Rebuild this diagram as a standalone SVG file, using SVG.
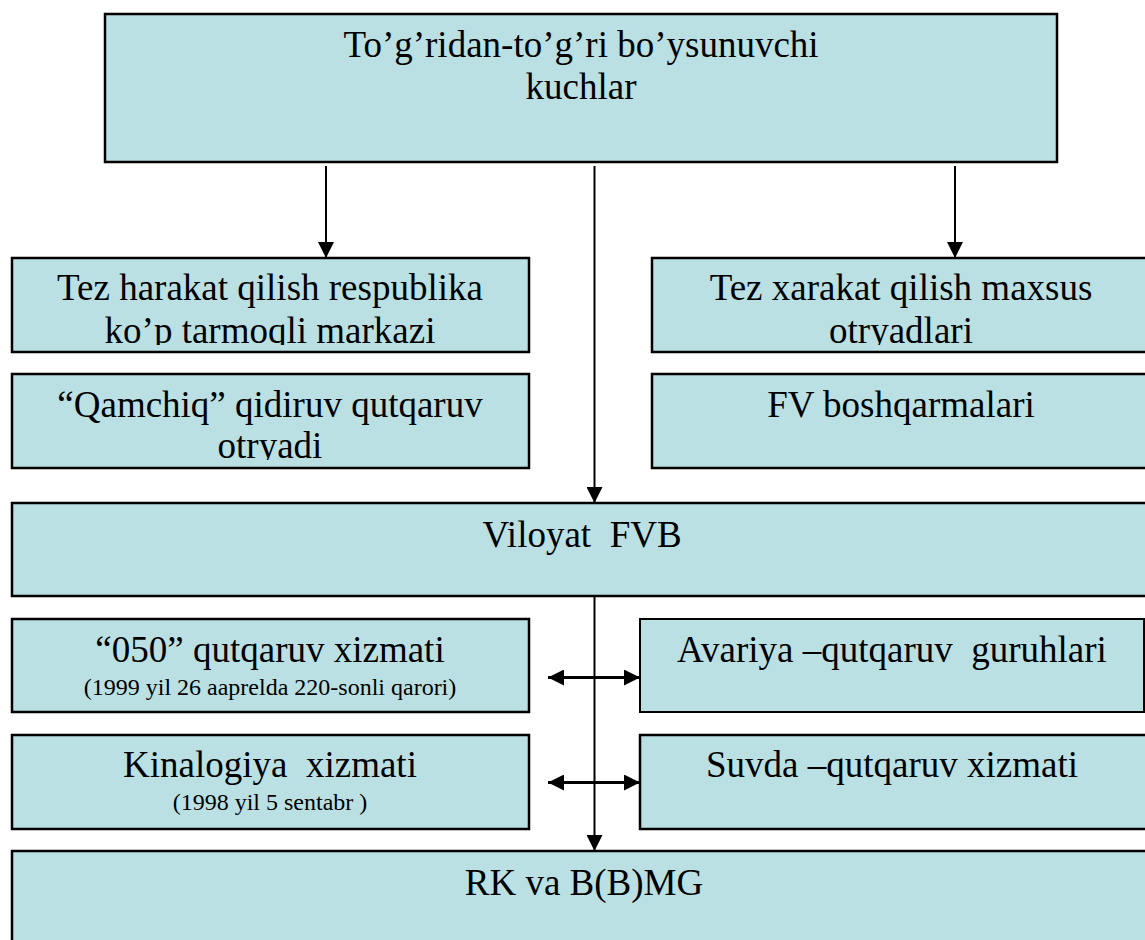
<svg xmlns="http://www.w3.org/2000/svg" width="1145" height="940" viewBox="0 0 1145 940">
<style>
.box{fill:#BBE0E3;stroke:#000;stroke-width:2.5}
.t{font-family:"Liberation Serif","Times New Roman",serif;font-size:37px;fill:#000;text-anchor:middle}
.s{font-family:"Liberation Serif","Times New Roman",serif;font-size:24px;fill:#000;text-anchor:middle}
.ln{stroke:#000;stroke-width:2;fill:none}
.dl{stroke:#000;stroke-width:3;fill:none}
</style>
<defs>
<marker id="ah" markerUnits="userSpaceOnUse" markerWidth="16" markerHeight="16" viewBox="0 0 16 16" refX="16" refY="8" orient="auto">
<path d="M0,0 L16,8 L0,16 Z" fill="#000"/>
</marker>
<marker id="dh" markerUnits="userSpaceOnUse" markerWidth="16" markerHeight="16" viewBox="0 0 16 16" refX="16" refY="8" orient="auto-start-reverse">
<path d="M0,0 L16,8 L0,16 Z" fill="#000"/>
</marker>
<clipPath id="c1"><rect x="12" y="258" width="518" height="87"/></clipPath>
<clipPath id="c2"><rect x="652" y="258" width="500" height="87"/></clipPath>
<clipPath id="c3"><rect x="12" y="374" width="518" height="86"/></clipPath>
</defs>
<g id="n-top">
<rect class="box" x="105" y="14" width="952" height="148"/>
<text class="t" x="581" y="57">To’g’ridan-to’g’ri bo’ysunuvchi</text>
<text class="t" x="581" y="99">kuchlar</text>
</g>
<g id="n-tez1">
<rect class="box" x="12" y="258" width="517" height="94"/>
<g clip-path="url(#c1)">
<text class="t" x="270" y="300">Tez harakat qilish respublika</text>
<text class="t" x="270" y="343">ko’p tarmoqli markazi</text>
</g>
</g>
<g id="n-tez2">
<rect class="box" x="652" y="258" width="500" height="94"/>
<g clip-path="url(#c2)">
<text class="t" x="901" y="300">Tez xarakat qilish maxsus</text>
<text class="t" x="901" y="343">otryadlari</text>
</g>
</g>
<g id="n-qamchiq">
<rect class="box" x="12" y="374" width="517" height="94"/>
<g clip-path="url(#c3)">
<text class="t" x="270" y="417">“Qamchiq” qidiruv qutqaruv</text>
<text class="t" x="270" y="458">otryadi</text>
</g>
</g>
<g id="n-fv">
<rect class="box" x="652" y="374" width="500" height="94"/>
<text class="t" x="901" y="417">FV boshqarmalari</text>
</g>
<g id="n-viloyat">
<rect class="box" x="12" y="503" width="1140" height="93"/>
<text class="t" x="582" y="547" xml:space="preserve">Viloyat  FVB</text>
</g>
<g id="n-050">
<rect class="box" x="12" y="619" width="517" height="93"/>
<text class="t" x="270" y="662">“050” qutqaruv xizmati</text>
<text class="s" x="270" y="695">(1999 yil 26 aaprelda 220-sonli qarori)</text>
</g>
<g id="n-avariya">
<rect class="box" x="640" y="619" width="504" height="93" style="stroke-width:2"/>
<text class="t" x="892" y="662" xml:space="preserve">Avariya –qutqaruv  guruhlari</text>
</g>
<g id="n-kinalogiya">
<rect class="box" x="12" y="735" width="517" height="94"/>
<text class="t" x="270" y="777" xml:space="preserve">Kinalogiya  xizmati</text>
<text class="s" x="270" y="810">(1998 yil 5 sentabr )</text>
</g>
<g id="n-suvda">
<rect class="box" x="640" y="735" width="512" height="94"/>
<text class="t" x="892" y="777">Suvda –qutqaruv xizmati</text>
</g>
<g id="n-rk">
<rect class="box" x="12" y="851" width="1140" height="100"/>
<text class="t" x="584" y="895">RK va B(B)MG</text>
</g>
<g id="connectors">
<line class="ln" x1="326" y1="166" x2="326" y2="258" marker-end="url(#ah)"/>
<line class="ln" x1="955" y1="166" x2="955" y2="258" marker-end="url(#ah)"/>
<line class="ln" x1="594.5" y1="166" x2="594.5" y2="503" marker-end="url(#ah)"/>
<line class="ln" x1="594.5" y1="596" x2="594.5" y2="851" marker-end="url(#ah)"/>
<line class="dl" x1="548" y1="677.5" x2="640" y2="677.5" marker-start="url(#dh)" marker-end="url(#dh)"/>
<line class="dl" x1="548" y1="782.5" x2="640" y2="782.5" marker-start="url(#dh)" marker-end="url(#dh)"/>
</g>
</svg>
